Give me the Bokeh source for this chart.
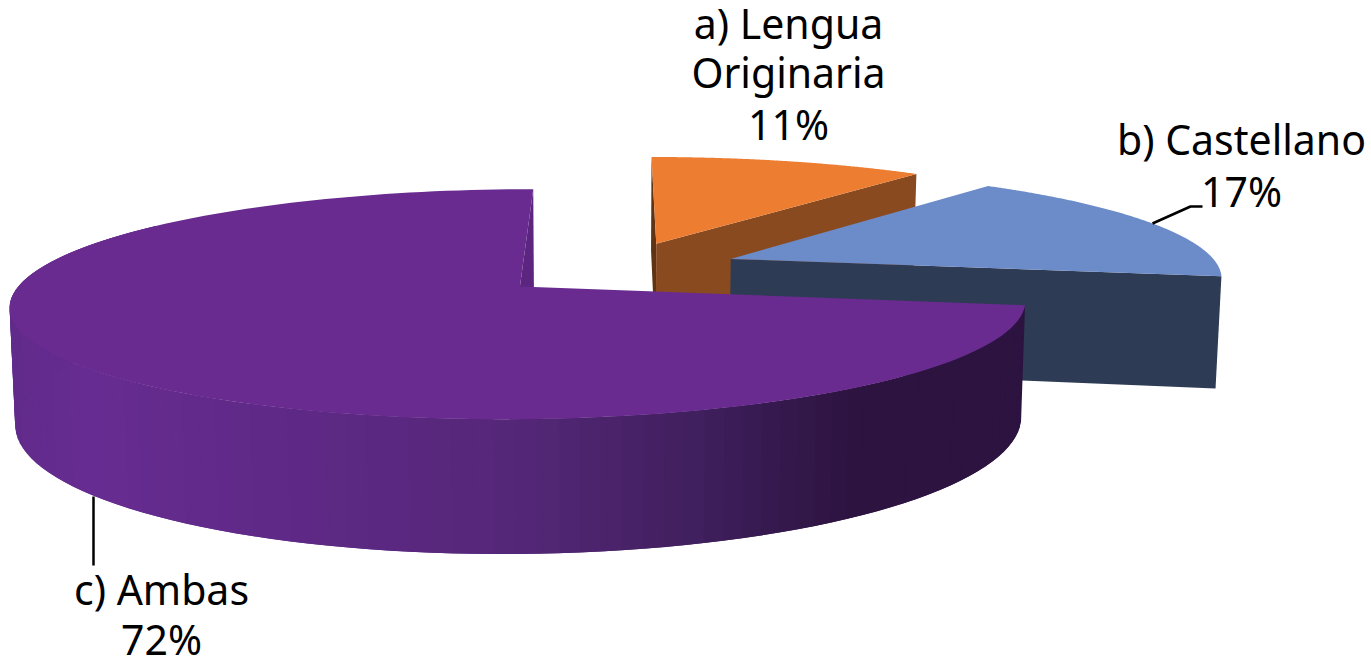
import numpy as np
from bokeh.plotting import figure
from bokeh.models import Range1d
from bokeh.core.properties import value
from bokeh.embed import file_html
from bokeh.resources import INLINE

# ---- data ----
categories = ["a) Lengua Originaria", "b) Castellano", "c) Ambas"]
label_lines = [["a) Lengua", "Originaria"], ["b) Castellano"], ["c) Ambas"]]
values = [10.7, 16.9, 72.4]
shown_percent = ["11%", "17%", "72%"]
top_colors = ["#ed7d31", "#6b8bc9", "#692b8f"]
wall_colors = ["#8a4a20", "#2e3b55", "#2c1340"]
inner_colors = ["#5e3415", "#232d42", "#5b2580"]

# ---- styling / view ----
FONT = "Noto Sans"
FS = "41px"
X0, Y0, A, B, K, SHEAR = 522.0, 286.5, 502.0, 112.5, 0.155, -15.0
HEIGHT = 114.0
XC, LEAN = 600.0, 0.0095
EXPLODE = 0.253
CENTER = (0.1876, -0.169)
TEXT_SHIFT = -17


def project(u, v):
    d = 1 - K * v
    return X0 + (A * u + SHEAR * v) / d, Y0 + B * v / d


def drop(x, y, v):
    return x + (XC - x) * LEAN, y + HEIGHT / (1 - K * v)


fracs = np.array(values) / sum(values)
edges = np.concatenate([[0], np.cumsum(fracs)]) * 2 * np.pi
mids = (edges[:-1] + edges[1:]) / 2
apexes = [(CENTER[0] + EXPLODE * np.sin(m), CENTER[1] - EXPLODE * np.cos(m)) for m in mids]

p = figure(width=1371, height=659, output_backend="svg", toolbar_location=None,
           x_range=Range1d(0, 1371), y_range=Range1d(659, 0),
           min_border=0, outline_line_color=None)
p.axis.visible = False
p.grid.visible = False
p.background_fill_color = "white"


def wpoint(i, t):
    u = apexes[i][0] + np.sin(t)
    v = apexes[i][1] - np.cos(t)
    return u, v


def quad(i, t):
    """Radial wall of slice i at angle t, in screen coordinates"""
    au, av = apexes[i]
    u, v = wpoint(i, t)
    ax, ay = project(au, av)
    ex, ey = project(u, v)
    bx, by = drop(ax, ay, av)
    fx, fy = drop(ex, ey, v)
    return [ax, ex, fx, bx], [ay, ey, fy, by]


def top_face(i):
    ts = np.linspace(edges[i], edges[i + 1], 160)
    au, av = apexes[i]
    pts = [project(au, av)] + [project(*wpoint(i, t)) for t in ts]
    return [q[0] for q in pts], [q[1] for q in pts]


def mix(c1, c2, f):
    a = [int(c1[j:j + 2], 16) for j in (1, 3, 5)]
    b = [int(c2[j:j + 2], 16) for j in (1, 3, 5)]
    return "#%02x%02x%02x" % tuple(int(round(a[k] + (b[k] - a[k]) * f)) for k in range(3))


# purple side shading: x position -> colour
shade_x = [12, 90, 300, 520, 700, 860, 1030]
shade_c = ["#612b8b", "#672c91", "#5e2986", "#552779", "#41205f", "#2c1340", "#2c1340"]


def shade(x):
    x = min(max(x, shade_x[0]), shade_x[-1])
    for k in range(len(shade_x) - 1):
        if x <= shade_x[k + 1]:
            return mix(shade_c[k], shade_c[k + 1], (x - shade_x[k]) / (shade_x[k + 1] - shade_x[k]))
    return shade_c[-1]


# orange
qx, qy = quad(0, edges[0])
p.patch(qx, qy, fill_color=inner_colors[0], line_color=None)
qx, qy = quad(0, edges[1])
p.patch(qx, qy, fill_color=wall_colors[0], line_color=None)
x, y = top_face(0)
p.patch(x, y, fill_color=top_colors[0], line_color=None)

# blue
qx, qy = quad(1, edges[2])
p.patch(qx, qy, fill_color=wall_colors[1], line_color=None)
x, y = top_face(1)
p.patch(x, y, fill_color=top_colors[1], line_color=None)

# purple
qx, qy = quad(2, 2 * np.pi)
p.patch(qx, qy, fill_color=inner_colors[2], line_color=None)
ts = np.linspace(edges[2], 1.7 * np.pi, 100)
xs, ys, cs = [], [], []
for j in range(len(ts) - 1):
    t0 = ts[j]
    t1 = ts[min(j + 2, len(ts) - 1)]   # overlap the next strip so no seam shows
    u0, v0 = wpoint(2, t0)
    u1, v1 = wpoint(2, t1)
    x0, y0 = project(u0, v0)
    x1, y1 = project(u1, v1)
    xb0, yb0 = drop(x0, y0, v0)
    xb1, yb1 = drop(x1, y1, v1)
    xs.append([x0, x1, xb1, xb0])
    ys.append([y0, y1, yb1, yb0])
    cs.append(shade(x0))
p.patches(xs, ys, fill_color=cs, line_color=None)
x, y = top_face(2)
p.patch(x, y, fill_color=top_colors[2], line_color=None)

# leader lines
leader_xs = [[1152, 1190, 1202], [93, 93]]
leader_ys = [[223, 206, 206], [496, 565]]
p.multi_line(leader_xs, leader_ys, line_color="black", line_width=2.5)

# labels
label_cx = [788, 1241, 161]
label_baselines = [[39, 88], [155], [605]]
pct_baselines = [140, 207, 655]
tx, ty, tt = [], [], []
for i in range(3):
    for line, by in zip(label_lines[i], label_baselines[i]):
        tx.append(label_cx[i]); ty.append(by + TEXT_SHIFT); tt.append(line)
    tx.append(label_cx[i]); ty.append(pct_baselines[i] + TEXT_SHIFT); tt.append(shown_percent[i])
p.text(tx, ty, text=tt, text_font=value(FONT), text_font_size=value(FS),
       text_align="center", text_baseline="alphabetic", text_color="#000000")

open("out.html", "w").write(file_html(p, INLINE))
